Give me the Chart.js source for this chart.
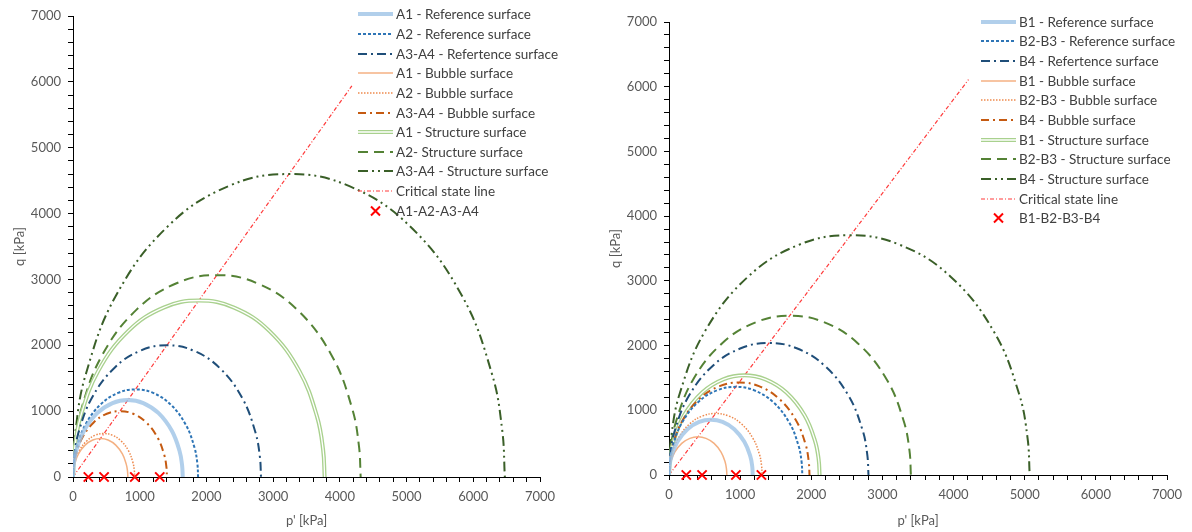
<!DOCTYPE html>
<html>
<head>
<meta charset="utf-8">
<script src="https://cdn.jsdelivr.net/npm/chart.js@4.4.1/dist/chart.umd.min.js"></script>
<style>
  html, body { margin: 0; padding: 0; background: #fff; }
  .panel { position: absolute; top: 0; height: 532px; }
  .legend { position: absolute; font-family: Lato, sans-serif; font-size: 13.5px; color: #404040; }
  .legend .row { height: 19.65px; display: flex; align-items: center; white-space: nowrap; }
  .legend svg { flex: none; margin-right: 3px; }
</style>
</head>
<body>
<div class="panel" style="left:0;width:596px"><canvas id="chartA"></canvas></div>
<div class="panel" style="left:596px;width:596px"><canvas id="chartB"></canvas></div>
<div class="legend" id="legendA" style="left:358px;top:4.5px"></div>
<div class="legend" id="legendB" style="left:981px;top:12px"></div>
<script>
// ---- data: [p' kPa, q kPa] ----
const namesA = [
  'A1 - Reference surface', 'A2 - Reference surface', 'A3-A4 - Refertence surface',
  'A1 - Bubble surface', 'A2 - Bubble surface', 'A3-A4 - Bubble surface',
  'A1 - Structure surface', 'A2- Structure surface', 'A3-A4 - Structure surface'
];
const namesB = [
  'B1 - Reference surface', 'B2-B3 - Reference surface', 'B4 - Refertence surface',
  'B1 - Bubble surface', 'B2-B3 - Bubble surface', 'B4 - Bubble surface',
  'B1 - Structure surface', 'B2-B3 - Structure surface', 'B4 - Structure surface'
];
const cslName = 'Critical state line';
const crossNameA = 'A1-A2-A3-A4';
const crossNameB = 'B1-B2-B3-B4';

const a1Ref = [[0,0],[10,180],[49,399],[165,702],[362,969],[592,1123],[823,1170],[1053,1123],[1283,969],[1481,702],[1596,399],[1635,180],[1645,0]];
const a2Ref = [[0,0],[11,205],[56,454],[188,798],[413,1101],[675,1277],[938,1330],[1200,1277],[1463,1101],[1688,798],[1819,454],[1864,205],[1875,0]];
const a34Ref = [[0,0],[17,308],[85,682],[282,1200],[620,1656],[1014,1920],[1409,2000],[1804,1920],[2198,1656],[2536,1200],[2733,682],[2801,308],[2818,0]];
const a1Bub = [[0,0],[5,90],[25,199],[82,350],[181,484],[296,561],[411,584],[526,561],[641,484],[740,350],[797,199],[817,90],[822,0]];
const a2Bub = [[0,0],[6,102],[28,225],[93,396],[204,546],[333,634],[463,660],[592,634],[722,546],[833,396],[897,225],[919,102],[925,0]];
const a34Bub = [[0,0],[8,154],[42,341],[141,600],[310,828],[507,960],[704,1000],[901,960],[1098,828],[1267,600],[1366,341],[1400,154],[1408,0]];
const a1Str = [[0,0],[23,413],[113,914],[377,1608],[830,2219],[1358,2573],[1886,2680],[2414,2573],[2942,2219],[3395,1608],[3659,914],[3749,413],[3772,0]];
const a2Str = [[0,0],[26,472],[129,1045],[431,1839],[949,2538],[1552,2942],[2156,3065],[2760,2942],[3363,2538],[3881,1839],[4183,1045],[4286,472],[4312,0]];
const a34Str = [[0,0],[39,708],[194,1569],[647,2760],[1424,3809],[2330,4416],[3237,4600],[4143,4416],[5049,3809],[5826,2760],[6279,1569],[6434,708],[6473,0]];
const cslA = [[0,0],[4180,5940]];
const crossA = [[230,0],[466,0],[926,0],[1300,0]];

const b1Ref = [[0,0],[7,132],[35,292],[118,513],[259,708],[424,821],[589,855],[753,821],[918,708],[1059,513],[1142,292],[1170,132],[1177,0]];
const b23Ref = [[0,0],[11,210],[56,464],[187,817],[412,1128],[675,1308],[937,1362],[1199,1308],[1462,1128],[1687,817],[1818,464],[1863,210],[1874,0]];
const b4Ref = [[0,0],[17,314],[84,696],[280,1224],[617,1689],[1009,1958],[1402,2040],[1795,1958],[2187,1689],[2524,1224],[2720,696],[2787,314],[2804,0]];
const b1Bub = [[0,0],[5,91],[24,201],[81,354],[179,489],[293,566],[407,590],[520,566],[634,489],[732,354],[789,201],[808,91],[813,0]];
const b23Bub = [[0,0],[8,146],[39,324],[131,570],[288,787],[471,912],[655,950],[838,912],[1021,787],[1178,570],[1270,324],[1301,146],[1309,0]];
const b4Bub = [[0,0],[12,220],[59,488],[198,858],[435,1184],[711,1373],[988,1430],[1264,1373],[1541,1184],[1778,858],[1916,488],[1963,220],[1975,0]];
const b1Str = [[0,0],[13,237],[64,525],[212,924],[466,1275],[762,1478],[1059,1540],[1355,1478],[1651,1275],[1905,924],[2053,525],[2104,237],[2117,0]];
const b23Str = [[0,0],[20,379],[102,839],[340,1476],[748,2037],[1224,2362],[1700,2460],[2176,2362],[2652,2037],[3060,1476],[3298,839],[3380,379],[3400,0]];
const b4Str = [[0,0],[30,571],[152,1263],[507,2223],[1115,3068],[1825,3557],[2535,3705],[3245,3557],[3955,3068],[4563,2223],[4918,1263],[5040,571],[5070,0]];
const cslB = [[0,0],[4210,6110]];
const crossB = [[243,0],[465,0],[940,0],[1299,0]];

const axisMax = 7000;
const tickStep = 200;
const labelStep = 1000;

// ---- styles ----
const surfaceStyles = [
  { color: 'rgba(157,195,230,0.8)', width: 4, dash: [] },
  { color: '#2e75b6', width: 2, dash: [3, 2] },
  { color: '#1f4e79', width: 2, dash: [9, 4, 2, 4] },
  { color: '#f4b183', width: 1.5, dash: [] },
  { color: '#ee8a4e', width: 1.5, dash: [1.5, 1.5] },
  { color: '#c55a11', width: 2, dash: [8, 4, 2, 4] },
  { color: '#a9d18e', width: 4, dash: [], double: true },
  { color: '#548235', width: 2, dash: [10, 6] },
  { color: '#3a5f28', width: 2, dash: [10, 4, 2, 4, 2, 4] }
];
const cslStyle = { color: '#ff3b3b', width: 1.2, dash: [4, 2, 1, 2] };
const font = { family: 'Lato, sans-serif', size: 13 };
const textColor = '#595959';

function lineSet(label, data, st) {
  return {
    label, data, showLine: true, fill: false, tension: 0.4,
    borderColor: st.color, borderWidth: st.width, borderDash: st.dash,
    pointRadius: 0, pointHoverRadius: 0
  };
}

function buildChart(id, names, curves, csl, crosses, pad, xHeight) {
  const datasets = [];
  curves.forEach((c, i) => {
    const st = surfaceStyles[i];
    if (st.double) {
      // white core over the wide line gives the double line look
      datasets.push(lineSet('', c, { color: '#ffffff', width: 1.3, dash: [] }));
    }
    datasets.push(lineSet(names[i], c, st));
  });
  datasets.push(lineSet(cslName, csl, cslStyle));
  datasets.push({
    label: 'points', data: crosses, showLine: false, clip: false,
    pointStyle: 'crossRot', pointRadius: 6.5, borderWidth: 2,
    borderColor: '#ff0000', backgroundColor: '#ff0000'
  });

  const ticks = {
    stepSize: tickStep, autoSkip: false, maxRotation: 0, color: textColor, font,
    callback: v => (Math.round(v) % labelStep === 0 ? Math.round(v) : '')
  };
  new Chart(document.getElementById(id), {
    type: 'scatter',
    data: { datasets },
    options: {
      responsive: true, maintainAspectRatio: false, animation: false,
      layout: { padding: pad },
      plugins: { legend: { display: false }, tooltip: { enabled: false } },
      scales: {
        x: {
          type: 'linear', min: 0, max: axisMax,
          ticks: { ...ticks, padding: 7 },
          grid: { drawOnChartArea: false, tickLength: 5, tickColor: '#000' },
          border: { color: '#000' },
          title: { display: true, text: "p' [kPa]", color: textColor, font, padding: { top: 0, bottom: 3 } },
          afterFit: s => { s.height = xHeight; }
        },
        y: {
          type: 'linear', min: 0, max: axisMax,
          ticks: { ...ticks, padding: 7 },
          grid: { drawOnChartArea: false, tickLength: 5, tickColor: '#000' },
          border: { color: '#000' },
          title: { display: true, text: 'q [kPa]', color: textColor, font, padding: { top: 12, bottom: 0 } },
          afterFit: s => { s.width = 73; }
        }
      }
    }
  });
}

function svgLine(st) {
  const dash = st.dash.length ? ` stroke-dasharray="${st.dash.join(' ')}"` : '';
  let s = `<line x1="0" y1="5" x2="35" y2="5" stroke="${st.color}" stroke-width="${st.width}"${dash}/>`;
  if (st.double) s += `<line x1="0" y1="5" x2="35" y2="5" stroke="#fff" stroke-width="1.3"/>`;
  return `<svg width="35" height="10">${s}</svg>`;
}

function buildLegend(id, names, crossName) {
  const rows = names.map((n, i) => `<div class="row">${svgLine(surfaceStyles[i])}<span>${n}</span></div>`);
  rows.push(`<div class="row">${svgLine(cslStyle)}<span>${cslName}</span></div>`);
  rows.push(`<div class="row"><svg width="35" height="12"><path d="M13 1.5 L22 10.5 M22 1.5 L13 10.5" stroke="#ff0000" stroke-width="2"/></svg><span>${crossName}</span></div>`);
  document.getElementById(id).innerHTML = rows.join('');
}

buildChart('chartA', namesA, [a1Ref, a2Ref, a34Ref, a1Bub, a2Bub, a34Bub, a1Str, a2Str, a34Str], cslA, crossA,
  { top: 16, right: 56, left: 0, bottom: 0 }, 55);
buildChart('chartB', namesB, [b1Ref, b23Ref, b4Ref, b1Bub, b23Bub, b4Bub, b1Str, b23Str, b4Str], cslB, crossB,
  { top: 22, right: 25, left: 0, bottom: 0 }, 57);
buildLegend('legendA', namesA, crossNameA);
buildLegend('legendB', namesB, crossNameB);
</script>
</body>
</html>
